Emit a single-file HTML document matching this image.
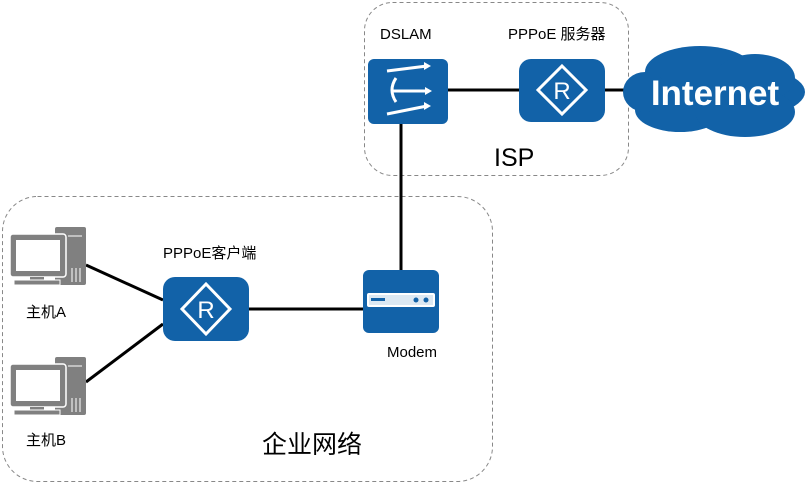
<!DOCTYPE html>
<html><head><meta charset="utf-8"><style>
body{margin:0;background:#fff;width:806px;height:484px;overflow:hidden;font-family:"Liberation Sans","Noto Sans CJK SC",sans-serif}
svg text{font-family:"Liberation Sans","Noto Sans CJK SC",sans-serif}
</style></head><body>
<svg width="806" height="484" viewBox="0 0 806 484">
<rect x="364.5" y="2.5" width="264" height="173" rx="28" fill="none" stroke="#888" stroke-dasharray="4,3"/>
<rect x="2.5" y="196.5" width="490" height="285" rx="35" fill="none" stroke="#888" stroke-dasharray="4,3"/>
<g stroke="#000" stroke-width="3">
<line x1="447" y1="90" x2="519" y2="90"/>
<line x1="604" y1="90" x2="628" y2="90"/>
<line x1="401" y1="123" x2="401" y2="270"/>
<line x1="248" y1="309" x2="363" y2="309"/>
<line x1="86" y1="265" x2="163" y2="300"/>
<line x1="86" y1="382" x2="163" y2="324"/>
</g>
<!-- DSLAM -->
<rect x="368" y="59" width="80" height="65" rx="6" fill="#1262a8"/>
<g stroke="#fff" stroke-width="3" fill="none">
<line x1="387" y1="71" x2="427" y2="66"/><line x1="391" y1="91" x2="427" y2="91"/><line x1="387" y1="114" x2="427" y2="106"/>
<path d="M396 78 q-8 12 0 24"/>
</g>
<g fill="#fff"><path d="M431 66l-7 -4v8z"/><path d="M432 91l-7 -4v8z"/><path d="M431 106l-7 -4v8z"/></g>
<text x="380" y="39" font-size="15">DSLAM</text>
<!-- server router -->
<rect x="519" y="59" width="86" height="63" rx="12" fill="#1262a8"/>
<path d="M562 66 l24 24 l-24 24 l-24 -24z" fill="none" stroke="#fff" stroke-width="3"/>
<text x="562" y="99" font-size="24" fill="#fff" text-anchor="middle">R</text>
<text x="508" y="39" font-size="15">PPPoE 服务器</text>
<!-- cloud -->
<g fill="#1262a8">
<ellipse cx="715" cy="92" rx="90" ry="30"/>
<ellipse cx="700" cy="72" rx="55" ry="26"/><ellipse cx="755" cy="78" rx="40" ry="24"/>
<ellipse cx="680" cy="110" rx="45" ry="22"/><ellipse cx="745" cy="112" rx="50" ry="25"/>
<ellipse cx="645" cy="92" rx="22" ry="20"/>
</g>
<text x="715" y="105" font-size="35" font-weight="bold" fill="#fff" text-anchor="middle">Internet</text>
<text x="494" y="166" font-size="25">ISP</text>
<!-- modem -->
<rect x="363" y="270" width="76" height="63" rx="6" fill="#1262a8"/>
<rect x="367" y="293" width="68" height="14" rx="2" fill="#fff"/>
<rect x="369" y="295" width="64" height="10" fill="#1262a8" opacity="0.15"/>
<g fill="#1262a8"><rect x="371" y="298" width="14" height="3"/><circle cx="416" cy="300" r="2.5"/><circle cx="426" cy="300" r="2.5"/></g>
<text x="387" y="357" font-size="15">Modem</text>
<!-- client router -->
<rect x="163" y="277" width="86" height="64" rx="12" fill="#1262a8"/>
<path d="M206 284 l24 25 l-24 25 l-24 -25z" fill="none" stroke="#fff" stroke-width="3"/>
<text x="206" y="318" font-size="24" fill="#fff" text-anchor="middle">R</text>
<text x="163" y="258" font-size="15">PPPoE客户端</text>
<!-- hosts -->
<g id="h" fill="#808080">
<rect x="55" y="227" width="31" height="58" rx="2"/>
<rect x="10" y="234" width="56" height="43" rx="3" stroke="#fff" stroke-width="1.5"/>
<rect x="16" y="240" width="44" height="31" fill="#fff"/>
<rect x="30" y="277" width="14" height="4"/>
<rect x="14" y="280" width="46" height="5" stroke="#fff" stroke-width="1"/>
<g stroke="#fff" stroke-width="1"><line x1="72" y1="268" x2="72" y2="282"/><line x1="76" y1="268" x2="76" y2="282"/><line x1="80" y1="268" x2="80" y2="282"/><line x1="68" y1="236" x2="82" y2="236"/></g>
</g>
<use href="#h" y="130"/>
<text x="26" y="317" font-size="15">主机A</text>
<text x="26" y="445" font-size="15">主机B</text>
<text x="262" y="453" font-size="25">企业网络</text>
</svg>
</body></html>
